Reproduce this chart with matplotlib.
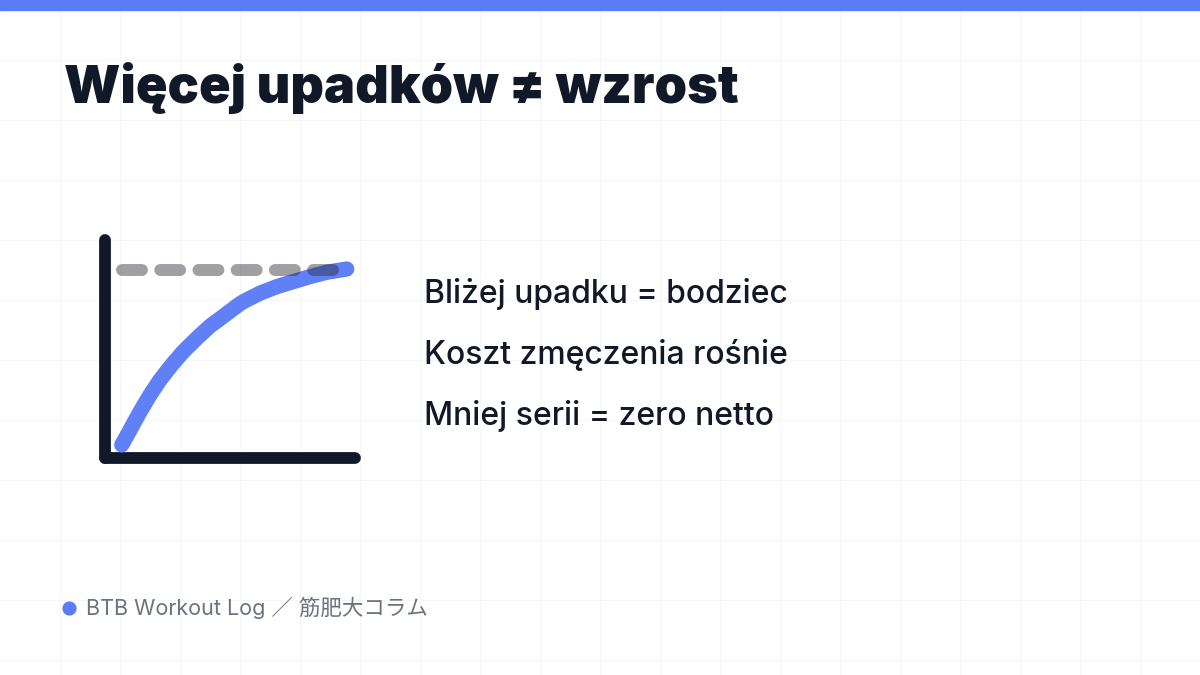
import matplotlib.pyplot as plt

# schematic: effort (0-10) vs growth (0-1)
effort = [0.67, 1.0, 1.4, 1.8, 2.2, 2.67, 3.13, 3.67, 4.2, 4.8, 5.33,
          5.53, 6.2, 6.87, 7.53, 8.2, 8.87, 9.67]
growth = [0.060, 0.128, 0.212, 0.289, 0.358, 0.427, 0.488, 0.549, 0.605, 0.656, 0.702,
          0.717, 0.756, 0.786, 0.809, 0.832, 0.852, 0.867]
ceiling = 0.862
ceiling_x = [0.66, 9.15]

title = "Więcej upadków ≠ wzrost"
points = ["Bliżej upadku = bodziec", "Koszt zmęczenia rośnie", "Mniej serii = zero netto"]
footer = "BTB Workout Log ／ 筋肥大コラム"

BLUE = "#5b7cf7"
DARK = "#111827"
GREY = "#6b7280"

W, H = 1200, 675
fig = plt.figure(figsize=(12, 6.75), dpi=100)

# background: grid + top bar + texts, pixel coordinates
bg = fig.add_axes([0, 0, 1, 1])
bg.set_xlim(0, W)
bg.set_ylim(H, 0)
bg.axis("off")
for gx in range(60, W, 60):
    bg.axvline(gx, color="#f5f5f7", lw=0.7, zorder=0)
for gy in range(60, H, 60):
    bg.axhline(gy, color="#f5f5f7", lw=0.7, zorder=0)
bg.axhspan(0, 10, color=BLUE, zorder=1)

bg.text(64, 103, title, fontsize=37.5, fontweight=900, color=DARK,
        family=["Inter", "DejaVu Sans"], va="baseline", ha="left")

for i, s in enumerate(points):
    bg.text(424, 303 + i * 61, s, fontsize=23, fontweight=500, color=DARK,
            family=["Inter", "DejaVu Sans"], va="baseline", ha="left")

bg.scatter([69], [608], s=85, color=BLUE, zorder=3)
bg.text(86, 615, footer, fontsize=15.5, color=GREY,
        family=["Inter", "Noto Sans CJK JP", "DejaVu Sans"], va="baseline", ha="left")

# mini chart
ax = fig.add_axes([105 / W, (H - 458) / H, 250 / W, 218 / H])
ax.set_xlim(0, 10)
ax.set_ylim(0, 1)
ax.axis("off")

ax.plot([0, 0], [0, 1], color=DARK, lw=8.5, solid_capstyle="round", clip_on=False)
ax.plot([0, 10], [0, 0], color=DARK, lw=8.5, solid_capstyle="round", clip_on=False)

ax.plot(effort, growth, color=BLUE, lw=11, alpha=0.97,
        solid_capstyle="round", solid_joinstyle="round", clip_on=False, zorder=3)

ax.plot(ceiling_x, [ceiling, ceiling], color="#2c2c37", alpha=0.45, lw=8.6,
        dashes=(1.67, 1.53), dash_capstyle="round", clip_on=False, zorder=4)

fig.savefig("out.png", dpi=100, facecolor="white")
